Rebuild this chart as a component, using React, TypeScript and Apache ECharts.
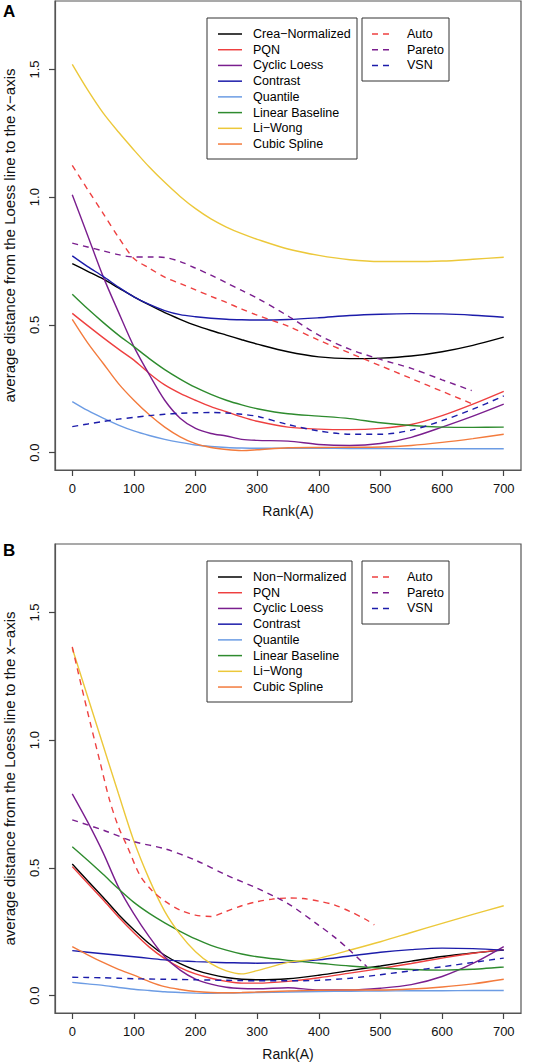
import React, { useEffect, useRef } from "react";
import * as echarts from "echarts";

const FONT = '"Liberation Sans", Arial, Helvetica, sans-serif';

// shared rank grid for full-length curves
const RANKS = [0, 25, 50, 75, 100, 125, 150, 175, 200, 225, 250, 275, 300, 350, 400, 450, 500, 550, 600, 650, 700];
const X_TICKS = [0, 100, 200, 300, 400, 500, 600, 700];
const Y_TICKS = [0, 0.5, 1.0, 1.5];

const SOLID_NAMES_A = ["Crea−Normalized", "PQN", "Cyclic Loess", "Contrast", "Quantile", "Linear Baseline", "Li−Wong", "Cubic Spline"];
const SOLID_NAMES_B = ["Non−Normalized", "PQN", "Cyclic Loess", "Contrast", "Quantile", "Linear Baseline", "Li−Wong", "Cubic Spline"];
const DASHED_NAMES = ["Auto", "Pareto", "VSN"];
const SOLID_COLORS = ["#000000", "#EE4040", "#7A1E8E", "#1C1CAA", "#6C9CE4", "#2E8B2E", "#ECC83A", "#F37B3D"];
const DASHED_COLORS = ["#EE4040", "#7A1E8E", "#1C1CAA"];

// Panel A (solid)
const A_CREA = [0.74, 0.71, 0.68, 0.645, 0.61, 0.578, 0.548, 0.522, 0.498, 0.478, 0.46, 0.442, 0.425, 0.395, 0.375, 0.368, 0.37, 0.378, 0.395, 0.42, 0.452];
const A_PQN = [0.545, 0.497, 0.45, 0.405, 0.362, 0.31, 0.265, 0.232, 0.205, 0.18, 0.16, 0.14, 0.123, 0.1, 0.092, 0.09, 0.095, 0.11, 0.145, 0.19, 0.24];
const A_CYCLIC = [1.01, 0.85, 0.69, 0.55, 0.415, 0.305, 0.205, 0.135, 0.095, 0.075, 0.065, 0.052, 0.048, 0.045, 0.032, 0.028, 0.036, 0.06, 0.1, 0.143, 0.19];
const A_CONTRAST = [0.77, 0.728, 0.69, 0.648, 0.61, 0.58, 0.556, 0.54, 0.532, 0.526, 0.522, 0.52, 0.519, 0.521, 0.528, 0.537, 0.542, 0.544, 0.543, 0.538, 0.53];
const A_QUANTILE = [0.2, 0.165, 0.135, 0.108, 0.085, 0.067, 0.052, 0.04, 0.03, 0.024, 0.02, 0.018, 0.017, 0.017, 0.017, 0.016, 0.016, 0.015, 0.015, 0.015, 0.015];
const A_LINEAR = [0.62, 0.563, 0.51, 0.46, 0.415, 0.368, 0.325, 0.288, 0.255, 0.228, 0.205, 0.187, 0.172, 0.152, 0.143, 0.133, 0.117, 0.106, 0.1, 0.099, 0.1];
const A_LIWONG = [1.52, 1.42, 1.33, 1.255, 1.185, 1.118, 1.058, 1.003, 0.955, 0.915, 0.883, 0.857, 0.835, 0.797, 0.772, 0.755, 0.748, 0.748, 0.75, 0.757, 0.765];
const A_CUBIC = [0.522, 0.43, 0.35, 0.27, 0.205, 0.148, 0.1, 0.062, 0.035, 0.02, 0.012, 0.008, 0.011, 0.019, 0.02, 0.021, 0.022, 0.028, 0.04, 0.055, 0.072];
// Panel A (dashed)
const A_AUTO_RANKS = [0, 25, 50, 75, 100, 125, 150, 175, 200, 225, 250, 275, 300, 350, 400, 450, 500, 550, 600, 650];
const A_AUTO = [1.125, 1.03, 0.937, 0.843, 0.76, 0.722, 0.687, 0.662, 0.637, 0.612, 0.588, 0.562, 0.538, 0.495, 0.44, 0.39, 0.34, 0.29, 0.24, 0.19];
const A_PARETO_RANKS = [0, 25, 50, 75, 100, 125, 150, 175, 200, 225, 250, 275, 300, 350, 400, 450, 500, 550, 600, 648];
const A_PARETO = [0.82, 0.805, 0.79, 0.775, 0.766, 0.766, 0.764, 0.748, 0.722, 0.695, 0.665, 0.635, 0.605, 0.535, 0.46, 0.405, 0.365, 0.33, 0.285, 0.243];
const A_VSN = [0.102, 0.112, 0.122, 0.131, 0.138, 0.145, 0.15, 0.154, 0.156, 0.157, 0.155, 0.15, 0.142, 0.11, 0.085, 0.072, 0.072, 0.088, 0.125, 0.17, 0.222];

// Panel B (solid)
const B_NONNORM = [0.515, 0.45, 0.385, 0.318, 0.258, 0.203, 0.158, 0.125, 0.1, 0.083, 0.071, 0.064, 0.062, 0.066, 0.08, 0.098, 0.116, 0.135, 0.153, 0.167, 0.178];
const B_PQN = [0.505, 0.44, 0.375, 0.308, 0.246, 0.19, 0.145, 0.11, 0.085, 0.068, 0.056, 0.049, 0.049, 0.056, 0.07, 0.088, 0.106, 0.126, 0.147, 0.166, 0.18];
const B_CYCLIC = [0.79, 0.68, 0.56, 0.425, 0.32, 0.23, 0.152, 0.1, 0.065, 0.045, 0.033, 0.028, 0.027, 0.031, 0.022, 0.022, 0.029, 0.043, 0.075, 0.126, 0.192];
const B_CONTRAST = [0.176, 0.17, 0.164, 0.158, 0.152, 0.146, 0.14, 0.136, 0.133, 0.131, 0.129, 0.128, 0.127, 0.13, 0.14, 0.155, 0.17, 0.18, 0.186, 0.184, 0.178];
const B_QUANTILE = [0.052, 0.046, 0.04, 0.032, 0.025, 0.02, 0.015, 0.012, 0.01, 0.009, 0.01, 0.011, 0.012, 0.014, 0.016, 0.017, 0.018, 0.019, 0.019, 0.02, 0.02];
const B_LINEAR = [0.583, 0.53, 0.475, 0.418, 0.365, 0.322, 0.285, 0.252, 0.222, 0.197, 0.178, 0.163, 0.152, 0.138, 0.127, 0.116, 0.108, 0.102, 0.1, 0.103, 0.112];
const B_LIWONG = [1.36, 1.17, 0.98, 0.79, 0.605, 0.455, 0.33, 0.24, 0.172, 0.125, 0.097, 0.085, 0.098, 0.13, 0.146, 0.178, 0.211, 0.247, 0.283, 0.318, 0.352];
const B_CUBIC = [0.192, 0.16, 0.13, 0.103, 0.08, 0.055, 0.035, 0.024, 0.016, 0.012, 0.011, 0.012, 0.014, 0.018, 0.021, 0.022, 0.022, 0.026, 0.034, 0.046, 0.064];
// Panel B (dashed)
const B_AUTO_RANKS = [0, 15, 30, 45, 60, 75, 90, 110, 130, 150, 175, 200, 225, 250, 275, 300, 325, 350, 375, 400, 425, 450, 475, 490];
const B_AUTO = [1.365, 1.21, 1.06, 0.915, 0.77, 0.66, 0.58, 0.47, 0.41, 0.37, 0.335, 0.315, 0.31, 0.33, 0.352, 0.368, 0.378, 0.382, 0.38, 0.37, 0.355, 0.33, 0.3, 0.277];
const B_PARETO_RANKS = [0, 50, 100, 150, 200, 250, 300, 350, 400, 425, 450, 478];
const B_PARETO = [0.688, 0.648, 0.603, 0.575, 0.53, 0.472, 0.42, 0.36, 0.275, 0.23, 0.178, 0.113];
const B_VSN = [0.072, 0.071, 0.07, 0.068, 0.066, 0.065, 0.064, 0.063, 0.062, 0.061, 0.06, 0.059, 0.058, 0.058, 0.06, 0.068, 0.082, 0.097, 0.113, 0.13, 0.147];

const SOLID_A = [A_CREA, A_PQN, A_CYCLIC, A_CONTRAST, A_QUANTILE, A_LINEAR, A_LIWONG, A_CUBIC];
const SOLID_B = [B_NONNORM, B_PQN, B_CYCLIC, B_CONTRAST, B_QUANTILE, B_LINEAR, B_LIWONG, B_CUBIC];
const DASHED_A: [number[], number[]][] = [[A_AUTO_RANKS, A_AUTO], [A_PARETO_RANKS, A_PARETO], [RANKS, A_VSN]];
const DASHED_B: [number[], number[]][] = [[B_AUTO_RANKS, B_AUTO], [B_PARETO_RANKS, B_PARETO], [RANKS, B_VSN]];

const DASH = [6, 5];
const LEGEND_ROW = 15.72;

function pairs(xs: number[], ys: number[]) {
  return xs.map((x, i) => [x, ys[i]]);
}

function lineSeries(name: string, data: number[][], color: string, dashed: boolean, idx: number) {
  return {
    type: "line",
    name,
    xAxisIndex: idx,
    yAxisIndex: idx,
    data,
    smooth: 0.3,
    showSymbol: false,
    symbol: "none",
    silent: true,
    lineStyle: { color, width: 1.4, type: dashed ? DASH : "solid" },
    itemStyle: { color },
  };
}

function legendGraphics(top: number, solidNames: string[], leftW: number) {
  const els: any[] = [];
  els.push({ type: "rect", shape: { x: 207, y: top, width: leftW, height: 141 }, style: { fill: "rgba(0,0,0,0)", stroke: "#333", lineWidth: 1 } });
  solidNames.forEach((n, i) => {
    const y = top + 16 + i * LEGEND_ROW;
    els.push({ type: "line", shape: { x1: 218, y1: y, x2: 242, y2: y }, style: { stroke: SOLID_COLORS[i], lineWidth: 1.5 } });
    els.push({ type: "text", x: 253, y, style: { text: n, fontSize: 12.5, fontFamily: FONT, fill: "#000", verticalAlign: "middle", align: "left" } });
  });
  els.push({ type: "rect", shape: { x: 362, y: top, width: 87, height: 63 }, style: { fill: "rgba(0,0,0,0)", stroke: "#333", lineWidth: 1 } });
  DASHED_NAMES.forEach((n, i) => {
    const y = top + 16 + i * LEGEND_ROW;
    els.push({ type: "line", shape: { x1: 372, y1: y, x2: 393, y2: y }, style: { stroke: DASHED_COLORS[i], lineWidth: 1.5, lineDash: DASH } });
    els.push({ type: "text", x: 407, y, style: { text: n, fontSize: 12.5, fontFamily: FONT, fill: "#000", verticalAlign: "middle", align: "left" } });
  });
  return els;
}

function xAxisCfg(idx: number) {
  return {
    type: "value",
    gridIndex: idx,
    min: -28,
    max: 728,
    splitLine: { show: false },
    axisLine: { show: true, onZero: false, lineStyle: { color: "#555", width: 1.2 } },
    axisTick: { show: true, customValues: X_TICKS, length: 6, inside: false, lineStyle: { color: "#444", width: 1.2 } },
    axisLabel: { customValues: X_TICKS, margin: 12, fontSize: 13, fontFamily: FONT, color: "#111" },
    name: "Rank(A)",
    nameLocation: "middle",
    nameGap: 34,
    nameTextStyle: { fontSize: 14, fontFamily: FONT, color: "#111" },
  };
}

function yAxisCfg(idx: number) {
  return {
    type: "value",
    gridIndex: idx,
    min: -0.068,
    max: 1.768,
    splitLine: { show: false },
    axisLine: { show: true, onZero: false, lineStyle: { color: "#555", width: 1.2 } },
    axisTick: { show: true, customValues: Y_TICKS, length: 6, inside: false, lineStyle: { color: "#444", width: 1.2 } },
    axisLabel: {
      customValues: Y_TICKS,
      rotate: 90,
      margin: 14,
      fontSize: 13,
      fontFamily: FONT,
      color: "#111",
      formatter: (v: number) => v.toFixed(1),
    },
    name: "average distance from the Loess line to the x−axis",
    nameLocation: "middle",
    nameRotate: 90,
    nameGap: 38,
    nameTextStyle: { fontSize: 15, fontFamily: FONT, color: "#111" },
  };
}

export default function App() {
  const ref = useRef<HTMLDivElement>(null);
  useEffect(() => {
    if (!ref.current) return;
    const chart = echarts.init(ref.current, undefined, { renderer: "svg" });
    const series: any[] = [];
    SOLID_A.forEach((vals, i) => series.push(lineSeries(SOLID_NAMES_A[i], pairs(RANKS, vals), SOLID_COLORS[i], false, 0)));
    DASHED_A.forEach(([xs, ys], i) => series.push(lineSeries(DASHED_NAMES[i], pairs(xs, ys), DASHED_COLORS[i], true, 0)));
    SOLID_B.forEach((vals, i) => series.push(lineSeries(SOLID_NAMES_B[i], pairs(RANKS, vals), SOLID_COLORS[i], false, 1)));
    DASHED_B.forEach(([xs, ys], i) => series.push(lineSeries(DASHED_NAMES[i], pairs(xs, ys), DASHED_COLORS[i], true, 1)));

    const gridBase = { left: 55, width: 466, height: 469, show: true, borderColor: "#555", borderWidth: 1.2, backgroundColor: "rgba(0,0,0,0)", containLabel: false, outerBoundsMode: "none" };
    chart.setOption({
      animation: false,
      backgroundColor: "#fff",
      grid: [
        { ...gridBase, top: 1 },
        { ...gridBase, top: 544 },
      ],
      xAxis: [xAxisCfg(0), xAxisCfg(1)],
      yAxis: [yAxisCfg(0), yAxisCfg(1)],
      series,
      graphic: [
        { type: "text", x: 3, y: 3, style: { text: "A", fontSize: 17, fontWeight: "bold", fontFamily: FONT, fill: "#000" } },
        { type: "text", x: 3, y: 542, style: { text: "B", fontSize: 17, fontWeight: "bold", fontFamily: FONT, fill: "#000" } },
        ...legendGraphics(18, SOLID_NAMES_A, 150),
        ...legendGraphics(561, SOLID_NAMES_B, 145),
      ],
    });
    return () => chart.dispose();
  }, []);
  return <div ref={ref} style={{ position: "absolute", left: 0, top: 0, width: 541, height: 1063 }} />;
}
